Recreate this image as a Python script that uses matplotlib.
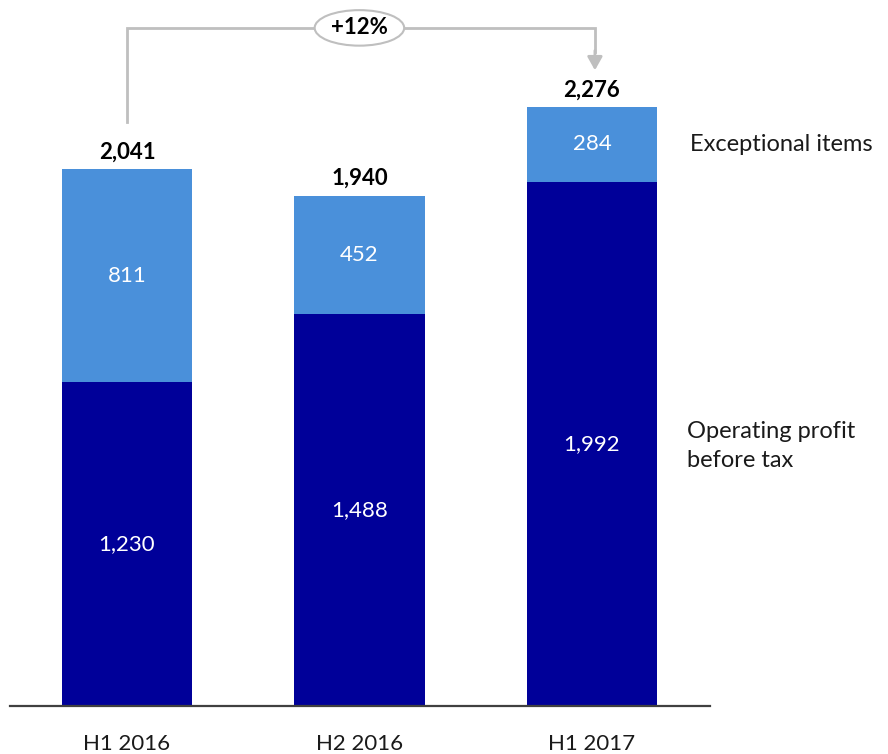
import matplotlib
matplotlib.use("Agg")
import matplotlib.pyplot as plt
from matplotlib.patches import Ellipse

# Profit before tax, split into operating profit and exceptional items
categories = ["H1 2016", "H2 2016", "H1 2017"]
operating = [1230, 1488, 1992]
exceptional = [811, 452, 284]
totals = [2041, 1940, 2276]

dark = "#000099"
light = "#4A90DA"
grey = "#BFBFBF"
plt.rcParams["font.family"] = ["Lato", "DejaVu Sans"]

fig = plt.figure(figsize=(8.88, 7.54), dpi=100)
ax = fig.add_axes([10 / 888, 48 / 754, 700 / 888, 706 / 754])
ax.set_xlim(-0.503, 2.508)
ax.set_ylim(0, 2683)
for s in ["top", "right", "left"]:
    ax.spines[s].set_visible(False)
ax.spines["bottom"].set_color("#404040")
ax.spines["bottom"].set_linewidth(1.6)
ax.set_yticks([])
ax.set_xticks([])

x = list(range(len(categories)))
w = 0.56
ax.bar(x, operating, width=w, color=dark, zorder=2)
ax.bar(x, exceptional, width=w, bottom=operating, color=light, zorder=2)

for i in x:
    ax.text(i, operating[i] / 2, f"{operating[i]:,}", ha="center", va="center",
            color="white", fontsize=16)
    ax.text(i, operating[i] + exceptional[i] / 2, f"{exceptional[i]:,}",
            ha="center", va="center", color="white", fontsize=16)
    ax.text(i, totals[i] + 25, f"{totals[i]:,}", ha="center", va="bottom",
            color="black", fontsize=16, fontweight="bold")
    ax.text(i, -105, categories[i], ha="center", va="top", color="#1a1a1a",
            fontsize=16, clip_on=False)

# Side labels aligned with the last bar's segments
last = len(categories) - 1
ax.text(2.42, operating[last] + exceptional[last] / 2, "Exceptional items",
        ha="left", va="center", fontsize=17, color="#1a1a1a", clip_on=False)
ax.text(2.41, operating[last] / 2 - 8, "Operating profit\nbefore tax",
        ha="left", va="center", fontsize=17, color="#1a1a1a",
        linespacing=1.45, clip_on=False)

# Growth bracket from first to last period
top = 2577
y_start = totals[0] + 180
y_end = totals[last] + 140
ax.plot([0, 0, last + 0.013, last + 0.013], [y_start, top, top, y_end + 70],
        color=grey, lw=2, solid_joinstyle="miter", zorder=1, clip_on=False)
ax.annotate("", xy=(last + 0.013, y_end), xytext=(last + 0.013, y_end + 75),
            arrowprops=dict(arrowstyle="-|>,head_length=0.8,head_width=0.45",
                            color=grey, lw=2, shrinkA=0, shrinkB=0))
growth = (totals[last] / totals[0] - 1) * 100
ax.add_patch(Ellipse((1, top), 0.385, 135, facecolor="white", edgecolor=grey,
                     lw=1.5, zorder=3, clip_on=False))
ax.text(1, top, f"+{growth:.0f}%", ha="center", va="center", fontsize=16,
        fontweight="bold", zorder=4)

fig.savefig("out.png", dpi=100)
